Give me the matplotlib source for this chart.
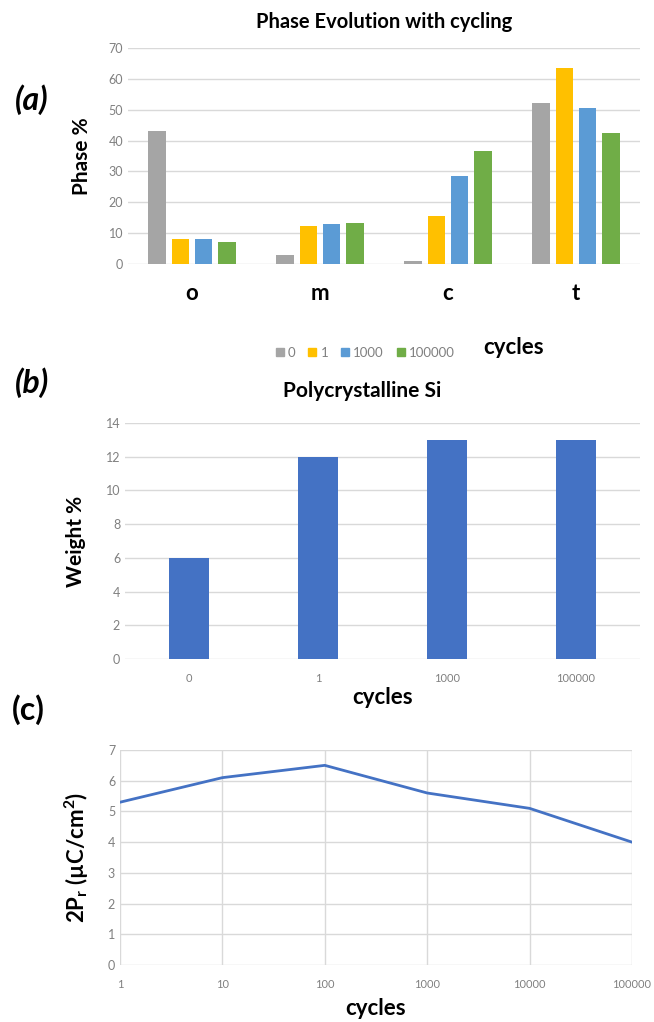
import matplotlib
matplotlib.use("Agg")
import matplotlib.pyplot as plt
from matplotlib.lines import Line2D
import numpy as np

plt.rcParams['font.family'] = ['Lato', 'DejaVu Sans']
plt.rcParams['mathtext.fontset'] = 'custom'
plt.rcParams['mathtext.rm'] = 'Lato:bold'
plt.rcParams['mathtext.it'] = 'Lato:bold'
plt.rcParams['mathtext.bf'] = 'Lato:bold'

# (a) phase fractions
phases = ['o', 'm', 'c', 't']
cycle_labels = ['0', '1', '1000', '100000']
phase_0 = [43.2, 3.0, 1.0, 52.2]
phase_1 = [8.2, 12.4, 15.7, 63.6]
phase_1000 = [8.2, 13.0, 28.4, 50.4]
phase_100000 = [7.2, 13.2, 36.6, 42.6]

# (b) polycrystalline Si
si_cycles = ['0', '1', '1000', '100000']
si_weight = [6, 12, 13, 13]

# (c) remanent polarisation
pr_cycles = [1, 10, 100, 1000, 10000, 100000]
pr_values = [5.3, 6.1, 6.5, 5.6, 5.1, 4.0]

colors = ['#A5A5A5', '#FFC000', '#5B9BD5', '#70AD47']
blue = '#4472C4'
tick_grey = '#808080'
grid_grey = '#D9D9D9'

fig = plt.figure(figsize=(6.54, 10.22), dpi=100)


def fx(px):
    return px / 654


def fy(py):
    return 1 - py / 1022


def style(ax):
    for s in ax.spines.values():
        s.set_visible(False)
    ax.tick_params(length=0, colors=tick_grey, labelsize=9)
    ax.set_axisbelow(True)


# ---- (a)
ax1 = fig.add_axes([fx(128), fy(264), fx(512), 216 / 1022])
style(ax1)
x = np.arange(len(phases))
series = [phase_0, phase_1, phase_1000, phase_100000]
w = 0.14
step = 0.18
for i, vals in enumerate(series):
    ax1.bar(x + (i - 1.5) * step, vals, w, color=colors[i], label=cycle_labels[i])
ax1.set_xlim(-0.5, 3.5)
ax1.set_ylim(0, 70)
ax1.set_yticks(range(0, 71, 10))
ax1.yaxis.grid(True, color=grid_grey, linewidth=1)
ax1.set_xticks(x)
ax1.set_xticklabels(phases, fontsize=16, fontweight='bold', color='black')
ax1.tick_params(axis='x', pad=14)
ax1.set_ylabel('Phase %', fontsize=15, fontweight='bold', labelpad=12)
fig.text(fx(384), fy(22), 'Phase Evolution with cycling', ha='center', va='center',
         fontsize=14.5, fontweight='bold')
handles = [Line2D([], [], marker='s', linestyle='', color=c, markersize=6) for c in colors]
fig.legend(handles, cycle_labels, loc='center', bbox_to_anchor=(fx(364), fy(353)),
           ncol=4, frameon=False, fontsize=9.5, handletextpad=0.1, columnspacing=0.8,
           labelcolor=tick_grey, handlelength=1.0)
fig.text(fx(514), fy(348), 'cycles', ha='center', va='center', fontsize=16, fontweight='bold')
fig.text(fx(32), fy(100), '(a)', ha='center', va='center', fontsize=23,
         fontweight='bold', fontstyle='italic')

# ---- (b)
ax2 = fig.add_axes([fx(125), fy(659), fx(515), 236 / 1022])
style(ax2)
ax2.bar(np.arange(len(si_cycles)), si_weight, 0.31, color=blue)
ax2.set_xlim(-0.5, 3.5)
ax2.set_ylim(0, 14)
ax2.set_yticks(range(0, 15, 2))
ax2.yaxis.grid(True, color=grid_grey, linewidth=1)
ax2.set_xticks(np.arange(len(si_cycles)))
ax2.set_xticklabels(si_cycles, fontsize=8)
ax2.tick_params(axis='x', pad=10)
ax2.set_ylabel('Weight %', fontsize=15, fontweight='bold', labelpad=14)
ax2.set_xlabel('cycles', fontsize=16, fontweight='bold', labelpad=2)
fig.text(fx(362), fy(391), 'Polycrystalline Si', ha='center', va='center',
         fontsize=15, fontweight='bold')
fig.text(fx(32), fy(383), '(b)', ha='center', va='center', fontsize=23,
         fontweight='bold', fontstyle='italic')

# ---- (c)
ax3 = fig.add_axes([fx(120), fy(965), fx(512), 215 / 1022])
style(ax3)
ax3.plot(pr_cycles, pr_values, color=blue, linewidth=2)
ax3.set_xscale('log')
ax3.set_xlim(1, 100000)
ax3.set_ylim(0, 7)
ax3.set_yticks(range(0, 8))
ax3.set_xticks(pr_cycles)
ax3.set_xticklabels([str(c) for c in pr_cycles], fontsize=8)
ax3.minorticks_off()
ax3.grid(True, color=grid_grey, linewidth=1)
ax3.tick_params(axis='x', pad=10)
ax3.set_ylabel(r'2P$_{r}$ (µC/cm$^{2}$)', fontsize=16, fontweight='bold', labelpad=12)
ax3.set_xlabel('cycles', fontsize=16, fontweight='bold', labelpad=6)
fig.text(fx(28), fy(710), '(c)', ha='center', va='center', fontsize=23,
         fontweight='bold', fontstyle='normal')

fig.savefig('out.png', dpi=100)
